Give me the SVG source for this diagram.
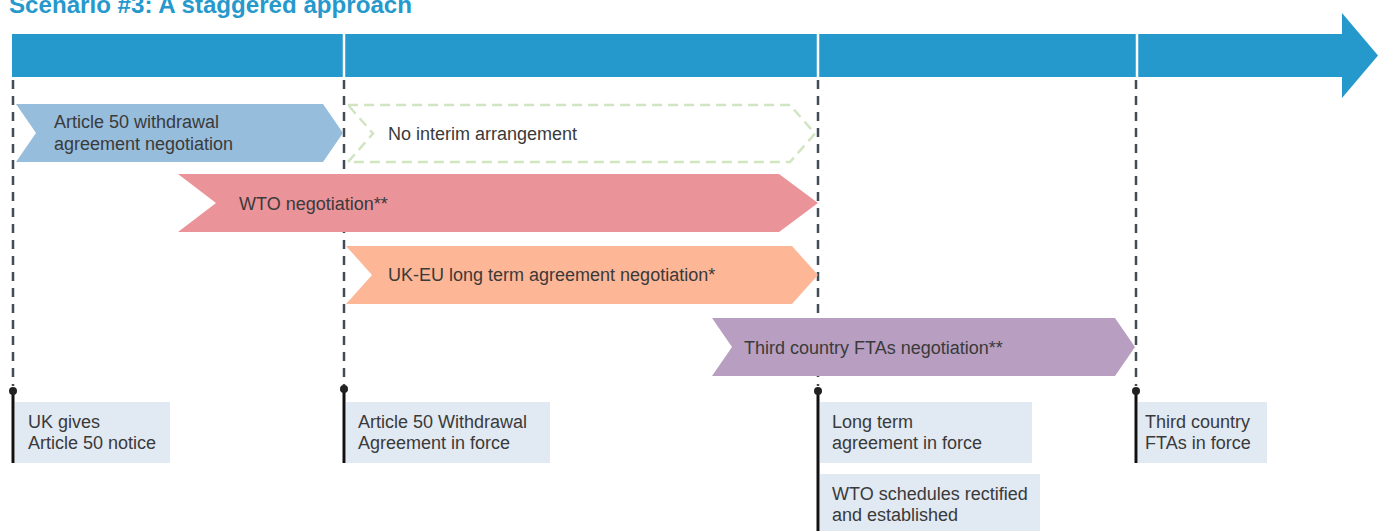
<svg xmlns="http://www.w3.org/2000/svg" width="1378" height="531" viewBox="0 0 1378 531">
<style>
  .t { font-family: "Liberation Sans", Arial, sans-serif; font-size: 18px; fill: #3A3A3A; }
  .title { font-family: "Liberation Sans", Arial, sans-serif; font-size: 24px; font-weight: bold; fill: #2699CC; }
  .guide { stroke: #414C56; stroke-width: 2.5; stroke-dasharray: 9 7; fill: none; }
  .stem { stroke: #111111; stroke-width: 3; fill: none; }
  .dot { fill: #222222; }
  .box { fill: #E1E9F3; }
  .sep { stroke: #FFFFFF; stroke-width: 2.5; }
</style>
<rect width="1378" height="531" fill="#FFFFFF"/>
<text class="title" x="9" y="12.5" textLength="403" lengthAdjust="spacingAndGlyphs">Scenario #3: A staggered approach</text>

<g id="timeline">
  <rect x="12" y="34" width="1331" height="43" fill="#2699CC"/>
  <polygon points="1342,13 1378,55.5 1342,98" fill="#2699CC"/>
  <line class="sep" x1="344" y1="33" x2="344" y2="78"/>
  <line class="sep" x1="818" y1="33" x2="818" y2="78"/>
  <line class="sep" x1="1137" y1="33" x2="1137" y2="78"/>
</g>

<g id="connectors">
  <line class="guide" x1="13" y1="80" x2="13" y2="386"/>
  <line class="guide" x1="344" y1="80" x2="344" y2="386"/>
  <line class="guide" x1="818" y1="80" x2="818" y2="386"/>
  <line class="guide" x1="1136" y1="80" x2="1136" y2="386"/>
  <line class="stem" x1="13" y1="391" x2="13" y2="463"/>
  <line class="stem" x1="344" y1="391" x2="344" y2="463"/>
  <line class="stem" x1="818" y1="391" x2="818" y2="531"/>
  <line class="stem" x1="1136" y1="391" x2="1136" y2="463"/>
  <circle class="dot" cx="13" cy="391" r="4"/>
  <circle class="dot" cx="344" cy="389" r="4"/>
  <circle class="dot" cx="818" cy="391" r="4"/>
  <circle class="dot" cx="1136" cy="391" r="4"/>
</g>

<g id="withdrawal-negotiation">
  <polygon points="16,104 323,104 343,133 323,162 16,162 36,133" fill="#97BDDD"/>
  <text class="t" x="54" y="128">Article 50 withdrawal</text>
  <text class="t" x="54" y="150">agreement negotiation</text>
</g>

<g id="no-interim">
  <polygon points="348,105 790,105 815,133.5 790,162 348,162 373,133.5" fill="none" stroke="#D2E5C3" stroke-width="2.5" stroke-dasharray="10 6"/>
  <text class="t" x="388" y="140">No interim arrangement</text>
</g>

<g id="wto-negotiation">
  <polygon points="178,174 779,174 818,203 779,232 178,232 216,203" fill="#EA9399"/>
  <text class="t" x="239" y="210">WTO negotiation**</text>
</g>

<g id="ukeu-negotiation">
  <polygon points="346,246 792,246 818,275 792,304 346,304 372,275" fill="#FDB797"/>
  <text class="t" x="388" y="281">UK-EU long term agreement negotiation*</text>
</g>

<g id="fta-negotiation">
  <polygon points="712,318 1115,318 1135,347 1115,376 712,376 732,347" fill="#B89FC1"/>
  <text class="t" x="744" y="354">Third country FTAs negotiation**</text>
</g>

<g id="uk-notice">
  <rect class="box" x="15" y="402" width="155" height="61"/>
  <text class="t" x="28" y="428">UK gives</text>
  <text class="t" x="28" y="449">Article 50 notice</text>
</g>

<g id="withdrawal-in-force">
  <rect class="box" x="346" y="402" width="204" height="61"/>
  <text class="t" x="358" y="428">Article 50 Withdrawal</text>
  <text class="t" x="358" y="449">Agreement in force</text>
</g>

<g id="long-term-in-force">
  <rect class="box" x="820" y="402" width="212" height="61"/>
  <text class="t" x="832" y="428">Long term</text>
  <text class="t" x="832" y="449">agreement in force</text>
</g>

<g id="wto-schedules">
  <rect class="box" x="820" y="474" width="220" height="57"/>
  <text class="t" x="832" y="500">WTO schedules rectified</text>
  <text class="t" x="832" y="521">and established</text>
</g>

<g id="fta-in-force">
  <rect class="box" x="1138" y="402" width="129" height="61"/>
  <text class="t" x="1145" y="428">Third country</text>
  <text class="t" x="1145" y="449">FTAs in force</text>
</g>
</svg>
